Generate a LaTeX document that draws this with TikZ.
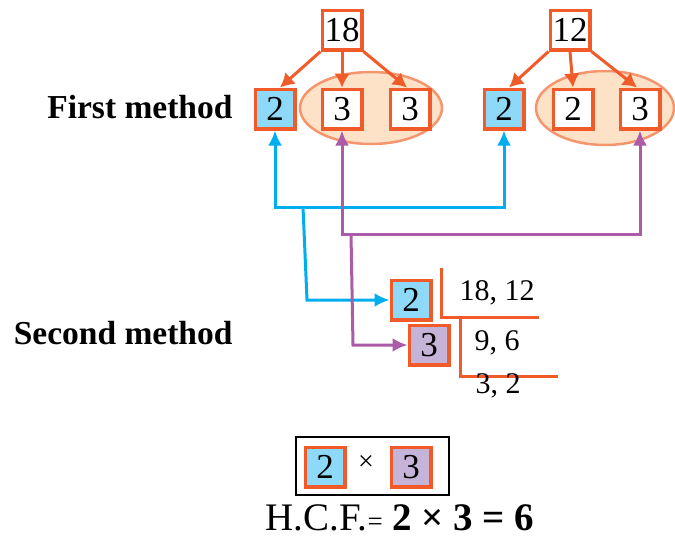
\documentclass[tikz,border=0pt]{standalone}
\usepackage{fontspec}
\setmainfont{Liberation Serif}
\usetikzlibrary{arrows.meta}

\definecolor{hcforange}{HTML}{F15A29}
\definecolor{hcfblue}{HTML}{8ED8F8}
\definecolor{hcfpurple}{HTML}{C6B4D8}
\definecolor{ovalfill}{HTML}{FDE2C8}
\definecolor{ovalline}{HTML}{F4956E}
\definecolor{lineblue}{HTML}{00AEEF}
\definecolor{linepurple}{HTML}{AB5BA8}

\tikzset{
  numbox/.style={draw=hcforange, line width=3.5pt, fill=white, minimum size=39.5pt,
    inner sep=0pt, font=\fontsize{35}{37}\selectfont},
  bluebox/.style={numbox, fill=hcfblue},
  purplebox/.style={numbox, fill=hcfpurple},
  oval/.style={draw=ovalline, line width=2.5pt, fill=ovalfill},
  treearr/.style={draw=hcforange, line width=3pt, -{Latex[length=14pt,width=16pt]}},
  bluearr/.style={draw=lineblue, line width=3pt},
  purplearr/.style={draw=linepurple, line width=3pt},
  divline/.style={draw=hcforange, line width=3pt},
  method/.style={anchor=east, font=\fontsize{33.5}{36}\selectfont\bfseries},
  quotient/.style={font=\fontsize{30}{32}\selectfont}
}

\begin{document}
\begin{tikzpicture}[x=1pt, y=-1pt]
  \useasboundingbox (0,0) rectangle (675,539);

  % ovals round the common factors
  \draw[oval] (371,108) ellipse [x radius=71pt, y radius=36pt];
  \draw[oval] (605,108) ellipse [x radius=69pt, y radius=37pt];

  % First method - factor trees
  \node[numbox] (n18) at (342,30) {18};
  \node[bluebox] (fa2) at (275,109) {2};
  \node[numbox] (fa3) at (342,109) {3};
  \node[numbox] (fa3b) at (410,109) {3};
  \draw[treearr] (n18.south west) -- ([xshift=5pt]fa2.north);
  \draw[treearr] (n18.south) -- (fa3.north);
  \draw[treearr] (n18.south east) -- ([xshift=-3pt]fa3b.north);

  \node[numbox] (n12) at (570,30) {12};
  \node[bluebox] (fb2) at (504,109) {2};
  \node[numbox] (fb2b) at (573,109) {2};
  \node[numbox] (fb3) at (640,109) {3};
  \draw[treearr] (n12.south west) -- ([xshift=5pt]fb2.north);
  \draw[treearr] (n12.south) -- (fb2b.north);
  \draw[treearr] (n12.south east) -- ([xshift=-3pt]fb3.north);

  \node[method] (first) at (236,107) {First method};
  \node[method] (second) at (236,333) {Second method};

  % Second method - division ladder
  \node[bluebox] (sb2) at (411,300) {2};
  \node[purplebox] (sb3) at (429,345) {3};
  \draw[divline] (441,268) -- (441,317) -- (539,317);
  \draw[divline] (460,317) -- (460,376) -- (558,376);
  \node[quotient] (q1) at (497,293) {18, 12};
  \node[quotient] (q2) at (497,343) {9, 6};
  \node[quotient] (q3) at (498,386) {3, 2};

  % links between the two methods
  \coordinate (bsplit) at (303,207);
  \coordinate (bknee) at (307,300);
  \draw[bluearr, {Latex[length=15pt,width=14pt]}-{Latex[length=15pt,width=14pt]}]
    (fa2.south) -- (fa2.south |- bsplit) -| (fb2.south);
  \draw[bluearr, -{Latex[length=15pt,width=14pt]}] (bsplit) -- (bknee) -- (sb2.west);

  \coordinate (psplit) at (351,234);
  \coordinate (pknee) at (353,345);
  \draw[purplearr, {Latex[length=15pt,width=14pt]}-{Latex[length=15pt,width=14pt]}]
    (fa3.south) -- (fa3.south |- psplit) -| (fb3.south);
  \draw[purplearr, -{Latex[length=15pt,width=14pt]}] (psplit) -- (pknee) -- (sb3.west);

  % result
  \draw[line width=2.5pt] (296,437) rectangle (449,495);
  \node[bluebox] (r2) at (325,467) {2};
  \node[font=\fontsize{28}{30}\selectfont] (times) at (366,463) {×};
  \node[purplebox] (r3) at (411,467) {3};
  \node[font=\fontsize{39}{41}\selectfont] (hcf) at (400,518)
    {H.C.F.{\fontsize{27}{29}\selectfont=} \textbf{2 × 3 = 6}};
\end{tikzpicture}
\end{document}
